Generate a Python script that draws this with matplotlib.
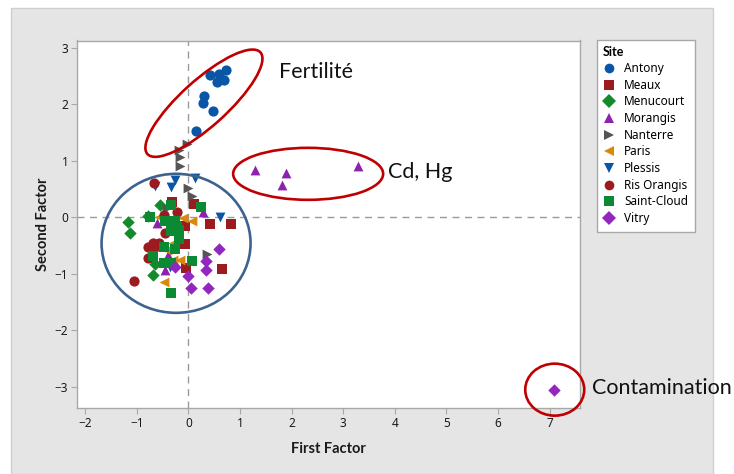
import matplotlib
matplotlib.use("Agg")
import matplotlib.pyplot as plt
from matplotlib.patches import Ellipse, Rectangle
from matplotlib.lines import Line2D
from matplotlib.transforms import IdentityTransform

# ---------------- data ----------------
sites = ["Antony", "Meaux", "Menucourt", "Morangis", "Nanterre", "Paris",
         "Plessis", "Ris Orangis", "Saint-Cloud", "Vitry"]

antony_x = [0.73, 0.60, 0.42, 0.56, 0.68, 0.30, 0.29, 0.48, 0.14]
antony_y = [2.60, 2.54, 2.52, 2.40, 2.43, 2.15, 2.03, 1.88, 1.52]

meaux_x = [0.10, -0.32, -0.06, -0.06, 0.42, 0.82, -0.04, 0.65]
meaux_y = [0.24, 0.27, -0.15, -0.47, -0.12, -0.12, -0.90, -0.91]

menucourt_x = [-1.18, -1.13, -0.79, -0.56, -0.24, -0.65, -0.68]
menucourt_y = [-0.09, -0.27, 0.03, 0.22, -0.10, -0.82, -1.02]

morangis_x = [1.29, 1.89, 1.82, 3.28, -0.61, 0.29, -0.39, -0.45]
morangis_y = [0.83, 0.79, 0.58, 0.91, -0.10, 0.10, -0.66, -0.93]

nanterre_x = [-0.02, -0.19, -0.16, -0.16, 0.00, 0.07, 0.36, -0.42]
nanterre_y = [1.30, 1.19, 1.07, 0.91, 0.52, 0.37, -0.65, 0.16]

paris_x = [-0.58, -0.10, 0.07, -0.42, -0.16, -0.29, -0.48, -0.30]
paris_y = [0.00, -0.01, -0.07, -0.58, -0.75, -0.76, -1.14, -0.45]

plessis_x = [-0.65, -0.26, -0.34, 0.13, 0.61, -0.35]
plessis_y = [0.55, 0.66, 0.53, 0.69, 0.01, -0.88]

ris_x = [-0.66, -0.22, -0.47, -0.45, -0.68, -0.58, -0.65, -0.78, -0.78, -1.05]
ris_y = [0.61, 0.10, 0.05, -0.27, -0.46, -0.46, -0.52, -0.52, -0.72, -1.12]

stcloud_x = [-0.34, 0.25, -0.74, -0.45, -0.26, -0.34, -0.19, -0.18, -0.48,
             -0.26, -0.69, 0.07, -0.48, -0.34, -0.34]
stcloud_y = [0.22, 0.18, 0.01, -0.07, -0.07, -0.25, -0.22, -0.39, -0.52,
             -0.56, -0.68, -0.78, -0.80, -0.81, -1.34]

vitry_x = [7.08, 0.60, 0.34, 0.34, 0.00, 0.05, 0.37, -0.26]
vitry_y = [-3.05, -0.56, -0.78, -0.94, -1.04, -1.25, -1.25, -0.88]

xs = [antony_x, meaux_x, menucourt_x, morangis_x, nanterre_x, paris_x,
      plessis_x, ris_x, stcloud_x, vitry_x]
ys = [antony_y, meaux_y, menucourt_y, morangis_y, nanterre_y, paris_y,
      plessis_y, ris_y, stcloud_y, vitry_y]

markers = ["o", "s", "D", "^", ">", "<", "v", "o", "s", "D"]
colors = ["#0a56a6", "#9b1b1e", "#138a2c", "#8c22ad", "#555555", "#d98a0c",
          "#0a56a6", "#9b1b1e", "#0b8a33", "#9426c0"]
sizes = [54, 46, 40, 50, 50, 50, 50, 54, 46, 40]

x_ticks = [-2, -1, 0, 1, 2, 3, 4, 5, 6, 7]
y_ticks = [-3, -2, -1, 0, 1, 2, 3]

# groups: (label, center x, center y, width px, height px, angle, color)
groups = [
    ("Fertilité", 0.30, 2.02, 152, 46, 42, "#c00000"),
    ("Cd, Hg", 2.32, 0.77, 150, 52, 0, "#c00000"),
    ("", -0.24, -0.46, 149, 139, 0, "#3c6390"),
    ("Contamination", 7.10, -3.05, 59, 52, 0, "#c00000"),
]

# ---------------- figure ----------------
W, H = 734, 474
fig = plt.figure(figsize=(W / 100, H / 100), dpi=100)
fig.patch.set_facecolor("white")

fig.patches.append(Rectangle((11 / W, 0), (713 - 11) / W, (474 - 8) / H,
                             transform=fig.transFigure, facecolor="#e5e5e5",
                             edgecolor="#cfcfcf", linewidth=1, zorder=-10))

ax = fig.add_axes([76.5 / W, 1 - 408.3 / H, (579.5 - 76.5) / W, (408.3 - 40.5) / H])
ax.set_facecolor("white")
ax.set_xlim(-2.17, 7.58)
ax.set_ylim(-3.38, 3.13)

ax.axvline(0, color="#9a9a9a", linestyle=(0, (5, 4)), linewidth=1, zorder=1)
ax.axhline(0, color="#9a9a9a", linestyle=(0, (5, 4)), linewidth=1, zorder=1)

for x, y, m, c, s in zip(xs, ys, markers, colors, sizes):
    ax.scatter(x, y, marker=m, color=c, s=s, linewidths=0, zorder=3)

for sp in ax.spines.values():
    sp.set_color("#a8a8a8")
    sp.set_linewidth(1)

ax.set_xticks(x_ticks)
ax.set_yticks(y_ticks)
ax.tick_params(direction="out", length=4, width=0.8, color="#a8a8a8",
               labelsize=8.5, labelcolor="#1a1a1a", pad=2)
for lbl in ax.get_xticklabels() + ax.get_yticklabels():
    lbl.set_fontfamily("Noto Sans")

ax.set_xlabel("First Factor", fontsize=10.5, fontfamily="Lato",
              fontweight="bold", color="#1a1a1a", labelpad=9)
ax.set_ylabel("Second Factor", fontsize=10.5, fontfamily="Lato",
              fontweight="bold", color="#1a1a1a", labelpad=3)

fig.canvas.draw()

label_pos = {"Fertilité": (279, 72), "Cd, Hg": (388, 172),
             "Contamination": (592, 388)}
for name, cx, cy, w, h, ang, col in groups:
    px, py = ax.transData.transform((cx, cy))
    e = Ellipse((px, py), w, h, angle=ang, transform=IdentityTransform(),
                fill=False, edgecolor=col, linewidth=1.9, zorder=5)
    fig.patches.append(e)
    if name:
        tx, ty = label_pos[name]
        fig.text(tx / W, 1 - ty / H, name, fontsize=15.5, fontfamily="Lato",
                 color="#111111", ha="left", va="center")

handles = [Line2D([], [], marker=m, color=c, linestyle="none", markersize=7,
                  markeredgewidth=0) for m, c in zip(markers, colors)]
leg = fig.legend(handles, sites, title="Site", loc="upper left",
                 bbox_to_anchor=(596.5 / W, 1 - 40 / H), frameon=True,
                 fancybox=False, edgecolor="#a8a8a8", facecolor="white",
                 framealpha=1, prop={"family": "Noto Sans", "size": 8.5},
                 title_fontproperties={"family": "Lato", "size": 9,
                                       "weight": "bold"},
                 alignment="left", handlelength=1.0, handletextpad=0.8,
                 labelspacing=0.31, borderpad=0.55, borderaxespad=0)
leg.get_frame().set_linewidth(1)

fig.savefig("out.png", dpi=100)
